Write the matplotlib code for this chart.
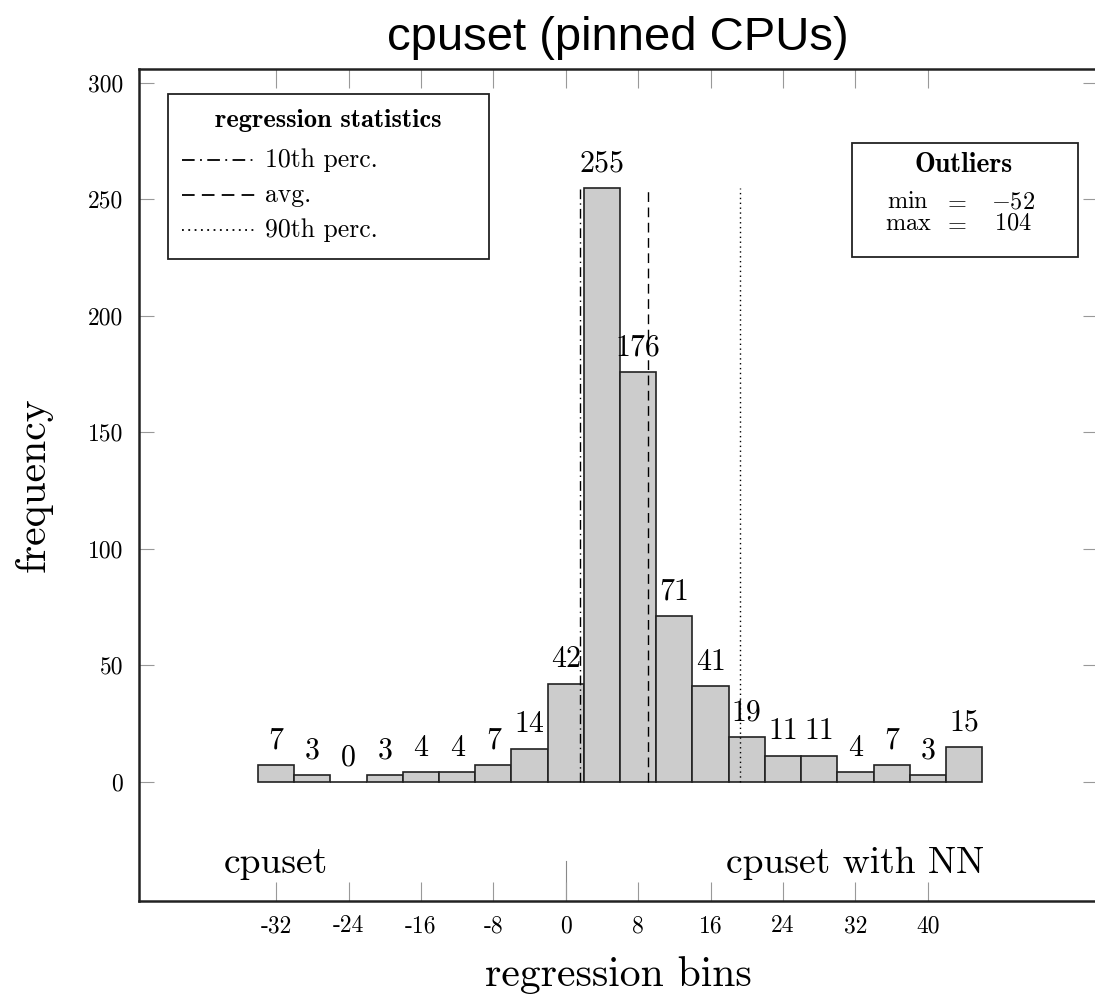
# -*- coding: utf-8 -*-
import numpy as np
import matplotlib
matplotlib.use('Agg')
import matplotlib.pyplot as plt
from matplotlib.patches import Rectangle
from matplotlib.lines import Line2D

### histogram data (bin centres, width 4)
bin_centers = [-32, -28, -24, -20, -16, -12, -8, -4, 0, 4,
               8, 12, 16, 20, 24, 28, 32, 36, 40, 44]
counts = [7, 3, 0, 3, 4, 4, 7, 14, 42, 255,
          176, 71, 41, 19, 11, 11, 4, 7, 3, 15]
bin_width = 4

### regression statistics
perc10 = 1.6
average = 9.1
perc90 = 19.3
outlier_min = -52
outlier_max = 104

xticks = [-32, -24, -16, -8, 0, 8, 16, 24, 32, 40]
yticks = [0, 50, 100, 150, 200, 250, 300]

W, H = 1095, 996

def px(x):
    return x / W

def py(y):
    return 1 - y / H

def main():
    plt.rcParams['axes.unicode_minus'] = False
    plt.rcParams['mathtext.fontset'] = 'cm'

    fig = plt.figure(figsize=(W / 100, H / 100), dpi=100)
    ax = fig.add_axes([px(138.5), py(901), px(1098) - px(138.5), py(69) - py(901)])

    ax.bar(bin_centers, counts, width=bin_width, color='#cccccc',
           edgecolor='#222222', lw=1.2, zorder=2)

    for xc, c in zip(bin_centers, counts):
        ax.annotate(str(c), (xc, c), xytext=(0, 7.5), textcoords='offset points',
                    ha='center', va='bottom', fontsize=21.5, family='cmr10',
                    zorder=4)

    top = max(counts)
    ax.plot([perc10, perc10], [0, top], c='black', lw=1.0,
            linestyle=(0, (7, 3, 1, 3)), zorder=3)
    ax.plot([average, average], [0, top], c='black', lw=1.0,
            linestyle=(0, (7, 4)), zorder=3)
    ax.plot([perc90, perc90], [0, top], c='black', lw=1.0,
            linestyle=(0, (1, 2.5)), zorder=3)

    ## separator between the two halves
    ax.plot([0, 0], [-51.3, -34], c='#888888', lw=0.8, zorder=1)

    ax.text(-32, -39.3, 'cpuset', ha='center', va='baseline',
            fontsize=27, family='cmr10')
    ax.text(32, -39.3, 'cpuset with NN', ha='center', va='baseline',
            fontsize=27, family='cmr10')

    ax.set_xlim(-47.2, 58.8)
    ax.set_ylim(-51.3, 305.9)

    ax.set_xticks(xticks)
    ax.set_xticklabels([str(t) for t in xticks], family='cmr10', fontsize=17)
    ax.set_yticks(yticks)
    ax.set_yticklabels([str(t) for t in yticks], family='cmr10', fontsize=17)
    ax.tick_params(axis='x', direction='in', length=14, width=0.8,
                   color='#999999', top=True, pad=10)
    ax.tick_params(axis='y', direction='in', length=11, width=0.8,
                   color='#999999', right=True, pad=11)

    for sp in ax.spines.values():
        sp.set_linewidth(1.8)
        sp.set_color('#222222')

    ax.set_xlabel('regression bins', family='cmr10', fontsize=30, labelpad=14)
    ax.set_ylabel('frequency', family='cmr10', fontsize=30, labelpad=25)

    fig.text(px(618), py(50), 'cpuset (pinned CPUs)', ha='center',
             va='baseline', fontsize=34, family='Liberation Sans')

    ### legend box: regression statistics
    fig.patches.append(Rectangle((px(167.7), py(258.7)), px(489) - px(167.7),
                                 py(94.3) - py(258.7), transform=fig.transFigure,
                                 fill=True, facecolor='white',
                                 edgecolor='#222222', lw=1.3, zorder=5))
    fig.text(px(328), py(121), 'regression statistics', ha='center',
             va='center', fontsize=19, family='cmb10', zorder=6)
    styles = [(0, (7, 3, 1, 3)), (0, (7, 4)), (0, (1, 2.5))]
    names = ['10th perc.', 'avg.', '90th perc.']
    ys = [160, 195, 230]
    for ls, name, yy in zip(styles, names, ys):
        fig.lines.append(Line2D([px(182), px(255)], [py(yy), py(yy)],
                                transform=fig.transFigure, c='black',
                                lw=1.3, linestyle=ls, zorder=6))
        fig.text(px(265), py(yy), name, ha='left', va='center',
                 fontsize=18.5, family='cmr10', zorder=6)

    ### outliers box
    fig.patches.append(Rectangle((px(851.7), py(256.7)), px(1077.7) - px(851.7),
                                 py(142.7) - py(256.7), transform=fig.transFigure,
                                 fill=True, facecolor='white',
                                 edgecolor='#222222', lw=1.3, zorder=5))
    fig.text(px(964), py(165), 'Outliers', ha='center', va='center',
             fontsize=20, family='cmb10', zorder=6)
    rows = [('min', outlier_min, 201), ('max', outlier_max, 223)]
    for name, val, yy in rows:
        fig.text(px(908), py(yy), r'$\mathrm{%s}$' % name, ha='center',
                 va='center', fontsize=17.5, zorder=6)
        fig.text(px(955), py(yy), r'$=$', ha='center', va='center',
                 fontsize=17.5, zorder=6)
        fig.text(px(1013), py(yy), r'$%d$' % val, ha='center', va='center',
                 fontsize=17.5, zorder=6)

    fig.savefig('out.png', dpi=100)

if __name__ == '__main__':
    main()
